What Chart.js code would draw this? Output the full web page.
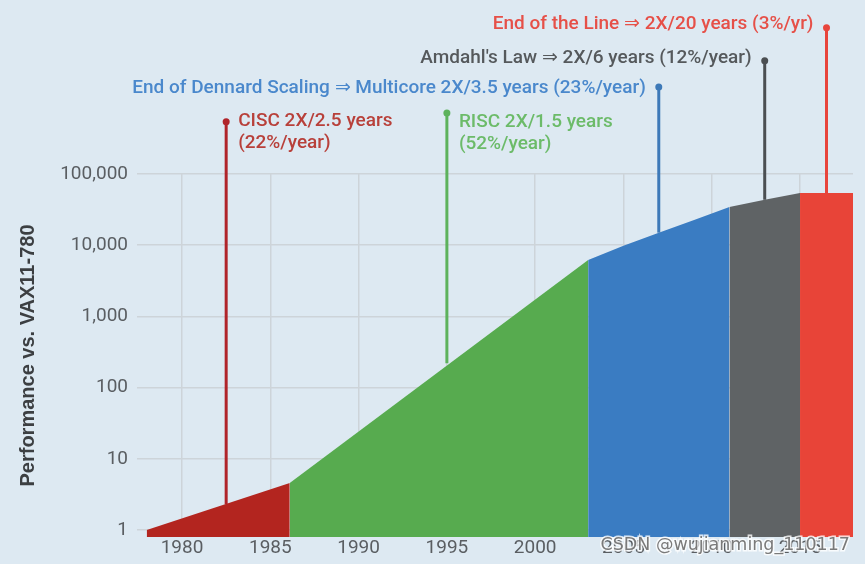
<!DOCTYPE html>
<html>
<head>
<meta charset="utf-8">
<script src="https://cdn.jsdelivr.net/npm/chart.js@4/dist/chart.umd.min.js"></script>
<style>
    html, body { margin: 0; padding: 0; background: #dde9f2; }
    #wrap { width: 865px; height: 564px; }
</style>
</head>
<body>
<div id="wrap"><canvas id="chart" width="865" height="564"></canvas></div>
<script>
// 시대별 성능 곡선 (연도 / VAX11-780 대비 성능)
const ciscYears = [1978, 1986.1];
const ciscPerf = [1, 4.6];
const riscYears = [1986.1, 2003];
const riscPerf = [4.6, 6200];
const dennardYears = [2003, 2005, 2007, 2009, 2011];
const dennardPerf = [6200, 9800, 15000, 22600, 34500];
const amdahlYears = [2011, 2013, 2015];
const amdahlPerf = [34500, 43500, 54000];
const endYears = [2015, 2018];
const endPerf = [54000, 54000];

// 주석 마커 (세로선)
const markerYears = [1982.5, 1995, 2007, 2013, 2016.5];
const markerBase = [2.3, 220, 15000, 43500, 54000];
const markerTop = [540000, 720000, 1670000, 3900000, 11300000];
const markerText = [
    ["CISC 2X/2.5 years", "(22%/year)"],
    ["RISC 2X/1.5 years", "(52%/year)"],
    ["End of Dennard Scaling \u21D2 Multicore 2X/3.5 years (23%/year)"],
    ["Amdahl's Law \u21D2 2X/6 years (12%/year)"],
    ["End of the Line \u21D2 2X/20 years (3%/yr)"]
];

const yTicks = [1, 10, 100, 1000, 10000, 100000];
const xTicks = [1980, 1985, 1990, 1995, 2000, 2005, 2010, 2015];

// 스타일
const fillColors = ['#b3251f', '#57ab4f', '#3a7cc2', '#5f6365', '#e84438'];
const markerColors = ['#b0242a', '#5db25c', '#3d79b8', '#4b4f52', '#e8453c'];
const textColors = ['#b8403a', '#6cbb69', '#4a88cc', '#55595c', '#e65048'];
const textSide = ['right', 'right', 'left', 'left', 'left'];
const textDy = [-1, 9, 1, -2, -4];

const toPts = (xs, ys) => xs.map((x, i) => ({ x: x, y: ys[i] }));

const areaSets = [
    [ciscYears, ciscPerf], [riscYears, riscPerf], [dennardYears, dennardPerf],
    [amdahlYears, amdahlPerf], [endYears, endPerf]
].map((s, i) => ({
    data: toPts(s[0], s[1]),
    fill: 'start',
    backgroundColor: fillColors[i],
    borderWidth: 0,
    pointRadius: 0,
    tension: 0,
    order: 10
}));

const markerSets = markerYears.map((yr, i) => ({
    data: [{ x: yr, y: markerBase[i] }, { x: yr, y: markerTop[i] }],
    borderColor: markerColors[i],
    borderWidth: 3,
    pointRadius: 0,
    fill: false,
    clip: false,
    order: 1
}));

const bgPlugin = {
    id: 'bg',
    beforeDraw(chart) {
        const ctx = chart.ctx;
        ctx.save();
        ctx.fillStyle = '#dde9f2';
        ctx.fillRect(0, 0, chart.width, chart.height);
        ctx.restore();
    }
};

const labelPlugin = {
    id: 'labels',
    afterDatasetsDraw(chart) {
        const ctx = chart.ctx;
        const xs = chart.scales.x, ys = chart.scales.y;
        ctx.save();
        ctx.font = '500 19px Roboto';
        ctx.textBaseline = 'middle';
        markerYears.forEach((yr, i) => {
            const px = xs.getPixelForValue(yr);
            const top = ys.getPixelForValue(markerTop[i]);
            // 마커 끝 점 (차트 영역 밖이라 직접 그림)
            ctx.fillStyle = markerColors[i];
            ctx.beginPath();
            ctx.arc(px, top, 3.5, 0, Math.PI * 2);
            ctx.fill();

            const py = top + textDy[i];
            ctx.fillStyle = textColors[i];
            if (textSide[i] === 'right') {
                ctx.textAlign = 'left';
                markerText[i].forEach((t, k) => ctx.fillText(t, px + 12, py + k * 22));
            } else {
                ctx.textAlign = 'right';
                markerText[i].forEach((t, k) => ctx.fillText(t, px - 13, py + k * 22));
            }
        });
        ctx.restore();
    },
    afterDraw(chart) {
        // 워터마크
        const ctx = chart.ctx;
        ctx.save();
        ctx.font = '17.5px "DejaVu Sans"';
        ctx.textAlign = 'right';
        ctx.textBaseline = 'middle';
        ctx.lineWidth = 3;
        ctx.strokeStyle = 'rgba(255,255,255,0.8)';
        ctx.strokeText('CSDN @wujianming_110117', 850, 545);
        ctx.fillStyle = '#7a7a7a';
        ctx.fillText('CSDN @wujianming_110117', 850, 545);
        ctx.restore();
    }
};

new Chart(document.getElementById('chart'), {
    type: 'line',
    data: { datasets: [...markerSets, ...areaSets] },
    options: {
        responsive: false,
        animation: false,
        events: [],
        layout: { padding: { top: 174, right: 12, left: 0, bottom: 0 } },
        plugins: { legend: { display: false }, tooltip: { enabled: false } },
        scales: {
            x: {
                type: 'linear',
                min: 1977.45,
                max: 2018,
                afterBuildTicks: axis => { axis.ticks = xTicks.map(v => ({ value: v })); },
                afterFit: axis => { axis.height = 27; },
                border: { display: false },
                grid: { color: '#cdd4d9', lineWidth: 1.5, drawTicks: false },
                ticks: {
                    padding: 0,
                    color: '#5a5e62',
                    font: { family: 'Roboto', size: 19 },
                    maxRotation: 0,
                    autoSkip: false,
                    callback: v => String(v)
                }
            },
            y: {
                type: 'logarithmic',
                min: 0.8,
                max: 100000,
                afterBuildTicks: axis => { axis.ticks = yTicks.map(v => ({ value: v })); },
                afterFit: axis => { axis.width = 137; },
                border: { display: false },
                grid: { color: '#cdd4d9', lineWidth: 1.5, drawTicks: false },
                title: {
                    display: true,
                    text: 'Performance vs. VAX11-780',
                    color: '#3c3f42',
                    font: { family: 'Liberation Sans', size: 20, weight: 'bold' },
                    padding: { top: 16, bottom: 0 }
                },
                ticks: {
                    padding: 9,
                    color: '#5a5e62',
                    font: { family: 'Roboto', size: 19 },
                    callback: v => Number(v).toLocaleString('en-US')
                }
            }
        }
    },
    plugins: [bgPlugin, labelPlugin]
});
</script>
</body>
</html>
